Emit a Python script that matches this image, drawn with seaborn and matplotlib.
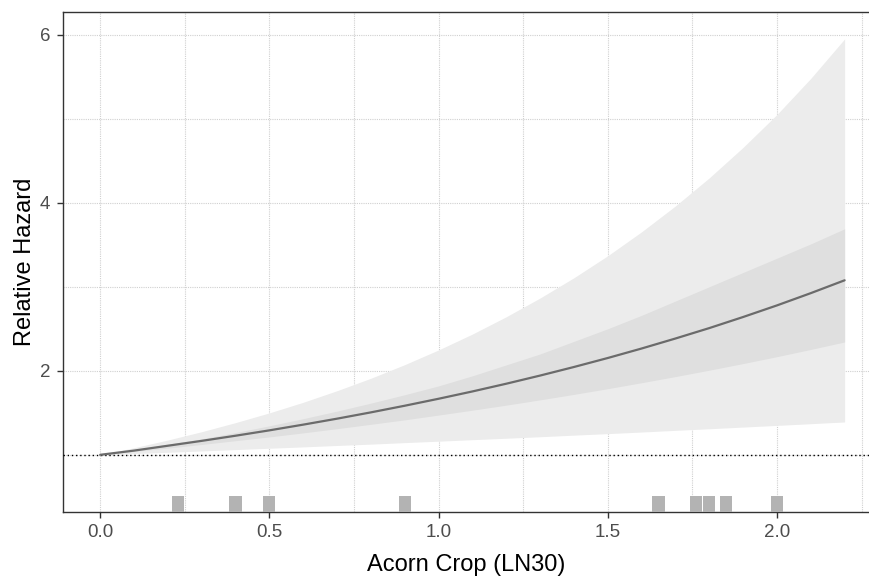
import matplotlib
matplotlib.use("Agg")
import matplotlib.pyplot as plt
import seaborn as sns
import pandas as pd
from matplotlib.ticker import MultipleLocator

# ---------------------------------------------------------------
# values (every 0.1 along the x axis)
# ---------------------------------------------------------------
acorn = [0.0, 0.1, 0.2, 0.3, 0.4, 0.5, 0.6, 0.7, 0.8, 0.9, 1.0, 1.1,
         1.2, 1.3, 1.4, 1.5, 1.6, 1.7, 1.8, 1.9, 2.0, 2.1, 2.2]
hr_median = [1.0, 1.05, 1.108, 1.166, 1.227, 1.291, 1.359, 1.43, 1.505, 1.584,
             1.667, 1.754, 1.846, 1.943, 2.045, 2.152, 2.265, 2.384, 2.508,
             2.64, 2.778, 2.924, 3.077]
outer_lo = [1.0, 1.015, 1.03, 1.046, 1.062, 1.078, 1.094, 1.111, 1.127, 1.145,
            1.162, 1.18, 1.197, 1.215, 1.234, 1.252, 1.271, 1.291, 1.31, 1.33,
            1.35, 1.37, 1.391]
outer_hi = [1.0, 1.084, 1.176, 1.275, 1.383, 1.499, 1.625, 1.763, 1.911, 2.073,
            2.248, 2.437, 2.643, 2.866, 3.107, 3.369, 3.654, 3.962, 4.296,
            4.659, 5.05, 5.48, 5.95]
inner_lo = [1.0, 1.04, 1.08, 1.123, 1.168, 1.213, 1.261, 1.311, 1.363, 1.416,
            1.473, 1.531, 1.591, 1.654, 1.719, 1.787, 1.858, 1.931, 2.007,
            2.086, 2.168, 2.254, 2.343]
inner_hi = [1.0, 1.06, 1.125, 1.19, 1.265, 1.345, 1.43, 1.52, 1.615, 1.715,
            1.82, 1.94, 2.07, 2.20, 2.35, 2.50, 2.66, 2.83, 3.00, 3.17, 3.34,
            3.51, 3.69]

rug_x = [0.23, 0.40, 0.50, 0.90, 1.65, 1.76, 1.80, 1.85, 2.00]

df = pd.DataFrame({"x": acorn, "hr": hr_median})

sns.set_theme(style="white")
plt.rcParams["font.family"] = ["Liberation Sans", "DejaVu Sans"]

fig = plt.figure(figsize=(8.7, 5.77), dpi=100)
ax = fig.add_axes([0.0724, 0.1132, 0.9276, 0.8660])

ax.set_xlim(-0.11, 2.275)
ax.set_ylim(0.323, 6.27)

# grid (major + minor, both dotted light grey)
ax.xaxis.set_major_locator(MultipleLocator(0.5))
ax.xaxis.set_minor_locator(MultipleLocator(0.25))
ax.yaxis.set_major_locator(MultipleLocator(2))
ax.yaxis.set_minor_locator(MultipleLocator(1))
ax.grid(which="both", color="#d0d0d0", linestyle=(0, (1, 1)), linewidth=0.8)
ax.set_axisbelow(True)

# ribbons
ax.fill_between(acorn, outer_lo, outer_hi, color="#ececec", linewidth=0, zorder=2)
ax.fill_between(acorn, inner_lo, inner_hi, color="#dfdfdf", linewidth=0, zorder=3)

# reference line at HR = 1
ax.axhline(1.0, color="black", linestyle=(0, (1, 2)), linewidth=1.0, zorder=4)

# median line
sns.lineplot(data=df, x="x", y="hr", ax=ax, color="#6b6b6b", linewidth=1.6, zorder=5)

# rug of observed values
ax.bar(rug_x, [0.19] * len(rug_x), bottom=0.323, width=0.036,
       color="#b3b3b3", linewidth=0, zorder=4)

ax.set_xlabel("Acorn Crop (LN30)", fontsize=17, color="black", labelpad=9)
ax.set_ylabel("Relative Hazard", fontsize=17, color="black", labelpad=3)

ax.tick_params(axis="both", which="major", labelsize=13.5, labelcolor="#4d4d4d",
               length=4, width=1, color="#333333", direction="out", pad=5,
               bottom=True, left=True)
ax.tick_params(which="minor", length=0)
ax.set_xticks([0.0, 0.5, 1.0, 1.5, 2.0])
ax.set_xticklabels(["0.0", "0.5", "1.0", "1.5", "2.0"])
ax.set_yticks([2, 4, 6])

for side in ["left", "bottom", "top"]:
    ax.spines[side].set_color("#333333")
    ax.spines[side].set_linewidth(1.0)
ax.spines["right"].set_visible(False)

fig.savefig("out.png", dpi=100)
